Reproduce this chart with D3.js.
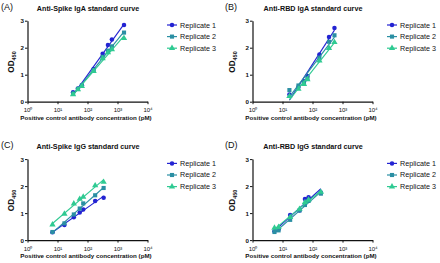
<!DOCTYPE html>
<html>
<head>
<meta charset="utf-8">
<script src="https://cdn.jsdelivr.net/npm/d3@7"></script>
<style>
  body { margin: 0; background: #fff; }
  svg { display: block; }
</style>
</head>
<body>
<div id="container"></div>
<script>
let w = 440;
let h = 263;

// ---- data ----
const replicates = ["Replicate 1", "Replicate 2", "Replicate 3"];
const panelLetters = ["(A)", "(B)", "(C)", "(D)"];
const panelTitles = [
  "Anti-Spike IgA standard curve",
  "Anti-RBD IgA standard curve",
  "Anti-Spike IgG standard curve",
  "Anti-RBD IgG standard curve"
];
const xTickValues = [1, 10, 100, 1000, 10000];
const xTickLabels = ["10\u2070", "10\u00b9", "10\u00b2", "10\u00b3", "10\u2074"];
const yTicks = [0, 1, 2, 3];
const xTitle = "Positive control antibody concentration (pM)";

// (A) anti-spike IgA
const spikeIgaConc = [33, 48, 65, 160, 320, 480, 650, 1650];
const spikeIgaRep1 = [0.35, 0.49, 0.61, 1.21, 1.78, 2.10, 2.30, 2.84];
const spikeIgaRep2 = [0.30, 0.47, 0.60, 1.17, 1.66, 1.89, 2.05, 2.56];
const spikeIgaRep3 = [0.27, 0.45, 0.57, 1.13, 1.60, 1.82, 1.94, 2.35];

// (B) anti-RBD IgA
const rbdIgaConc = [17, 34, 52, 68, 170, 355, 540];
const rbdIgaRep1 = [0.27, 0.54, 0.76, 0.95, 1.75, 2.40, 2.73];
const rbdIgaRep2 = [0.43, 0.60, 0.72, 0.86, 1.63, 2.22, 2.46];
const rbdIgaRep3 = [0.20, 0.47, 0.65, 0.82, 1.52, 1.98, 2.20];

// (C) anti-spike IgG
const spikeIggConc = [6.8, 17, 35, 55, 72, 180, 345];
const spikeIggRep1 = [0.29, 0.56, 0.85, 1.02, 1.13, 1.45, 1.57];
const spikeIggRep2 = [0.30, 0.62, 0.95, 1.17, 1.36, 1.66, 1.93];
const spikeIggRep3 = [0.57, 0.97, 1.35, 1.52, 1.60, 2.02, 2.15];

// (D) anti-RBD IgG
const rbdIggConc = [5.4, 7.4, 18, 37, 56, 74, 190];
const rbdIggRep1 = [0.33, 0.40, 0.93, 1.10, 1.52, 1.59, 1.76];
const rbdIggRep2 = [0.30, 0.36, 0.75, 1.10, 1.30, 1.45, 1.72];
const rbdIggRep3 = [0.45, 0.48, 0.85, 1.15, 1.40, 1.50, 1.78];

const panelData = [
  { conc: spikeIgaConc, reps: [spikeIgaRep1, spikeIgaRep2, spikeIgaRep3] },
  { conc: rbdIgaConc, reps: [rbdIgaRep1, rbdIgaRep2, rbdIgaRep3] },
  { conc: spikeIggConc, reps: [spikeIggRep1, spikeIggRep2, spikeIggRep3] },
  { conc: rbdIggConc, reps: [rbdIggRep1, rbdIggRep2, rbdIggRep3] }
];

// ---- styles / layout ----
const colors = ["#2323d2", "#2a8fa3", "#2fca92"];
const symbols = [d3.symbolCircle, d3.symbolSquare, d3.symbolTriangle];
const symbolSizes = [16, 17, 17];
const font = "'Liberation Sans', Arial, sans-serif";

let viz = d3.select("#container")
  .append("svg")
    .attr("width", w)
    .attr("height", h)
    .style("background-color", "white");

// least squares fit of OD against log10(conc)
function fitLine(xs, ys) {
  let lx = xs.map(v => Math.log10(v));
  let mx = d3.mean(lx), my = d3.mean(ys);
  let sxy = d3.sum(lx, (v, i) => (v - mx) * (ys[i] - my));
  let sxx = d3.sum(lx, v => (v - mx) * (v - mx));
  let b = sxy / sxx;
  let a = my - b * mx;
  let x0 = d3.min(xs), x1 = d3.max(xs);
  return [[x0, a + b * Math.log10(x0)], [x1, a + b * Math.log10(x1)]];
}

panelData.forEach(function(pd, p) {
  let col = p % 2, row = Math.floor(p / 2);
  let plotDx = col * 225;
  let legDx = col * 220;
  let dy = row * 138.4;

  let left = 27.5 + plotDx, right = 147.5 + plotDx;
  let bottom = 101.7 + dy, top = 20.7 + dy;

  let xScale = d3.scaleLog().domain([1, 10000]).range([left, right]);
  let yScale = d3.scaleLinear().domain([0, 3]).range([bottom, top]);

  let g = viz.append("g").attr("class", "panel");

  // panel letter
  g.append("text")
    .text(panelLetters[p])
    .attr("x", 1 + col * 224)
    .attr("y", 9.5 + dy)
    .style("font-family", font)
    .style("font-size", "9px")
    .attr("fill", "#111");

  // title
  g.append("text")
    .text(panelTitles[p])
    .attr("x", 88 + plotDx)
    .attr("y", 11 + dy)
    .attr("text-anchor", "middle")
    .style("font-family", font)
    .style("font-weight", "bold")
    .style("font-size", "7.2px")
    .attr("fill", "#111");

  // axes
  let xAxis = d3.axisBottom(xScale)
    .tickValues(xTickValues)
    .tickFormat((d, i) => xTickLabels[i])
    .tickSize(2.5)
    .tickSizeOuter(0);
  let xg = g.append("g").attr("transform", "translate(0," + bottom + ")").call(xAxis);
  xg.selectAll("text")
    .style("font-family", font)
    .style("font-size", "6px")
    .attr("dy", "0.85em")
    .attr("fill", "#111");

  let yAxis = d3.axisLeft(yScale)
    .tickValues(yTicks)
    .tickFormat(d3.format("d"))
    .tickSize(2.5)
    .tickSizeOuter(0);
  let yg = g.append("g").attr("transform", "translate(" + left + ",0)").call(yAxis);
  yg.selectAll("text")
    .style("font-family", font)
    .style("font-weight", "bold")
    .style("font-size", "6.2px")
    .attr("x", -3.5)
    .attr("fill", "#111");

  [xg, yg].forEach(function(a) {
    a.select(".domain").attr("stroke", "#111").attr("stroke-width", 1.2);
    a.selectAll(".tick line").attr("stroke", "#111").attr("stroke-width", 1);
  });

  // y label OD450
  let yl = g.append("text")
    .attr("transform", "translate(" + (13.5 + col * 221) + "," + (62 + dy) + ") rotate(-90)")
    .attr("text-anchor", "middle")
    .style("font-family", font)
    .style("font-weight", "bold")
    .style("font-size", "8.2px")
    .attr("fill", "#111");
  yl.append("tspan").text("OD");
  yl.append("tspan").text("450").attr("dy", 2).style("font-size", "5.5px");

  // x label
  g.append("text")
    .text(xTitle)
    .attr("x", 86 + plotDx)
    .attr("y", 120 + dy)
    .attr("text-anchor", "middle")
    .style("font-family", font)
    .style("font-weight", "bold")
    .style("font-size", "6.2px")
    .attr("fill", "#111");

  // series: fitted line + markers
  pd.reps.forEach(function(vals, r) {
    let seg = fitLine(pd.conc, vals);
    g.append("line")
      .attr("x1", xScale(seg[0][0]))
      .attr("y1", yScale(seg[0][1]))
      .attr("x2", xScale(seg[1][0]))
      .attr("y2", yScale(seg[1][1]))
      .attr("stroke", colors[r])
      .attr("stroke-width", 1.1);

    g.selectAll(".pt" + r)
      .data(pd.conc.map((c, i) => [c, vals[i]]))
      .enter()
      .append("path")
        .attr("class", "pt" + r)
        .attr("d", d3.symbol().type(symbols[r]).size(symbolSizes[r]))
        .attr("transform", d => "translate(" + xScale(d[0]) + "," + yScale(d[1]) + ")")
        .attr("fill", colors[r]);
  });

  // legend
  let leg = g.append("g").attr("transform", "translate(" + (167 + legDx) + "," + (25 + dy) + ")");
  replicates.forEach(function(name, r) {
    let ly = r * 11.6;
    leg.append("line")
      .attr("x1", 0).attr("x2", 10)
      .attr("y1", ly).attr("y2", ly)
      .attr("stroke", colors[r])
      .attr("stroke-width", 1.2);
    leg.append("path")
      .attr("d", d3.symbol().type(symbols[r]).size(symbolSizes[r]))
      .attr("transform", "translate(5," + ly + ")")
      .attr("fill", colors[r]);
    leg.append("text")
      .text(name)
      .attr("x", 13)
      .attr("y", ly + 2.5)
      .style("font-family", font)
      .style("font-size", "7.2px")
      .attr("fill", "#111");
  });
});
</script>
</body>
</html>
